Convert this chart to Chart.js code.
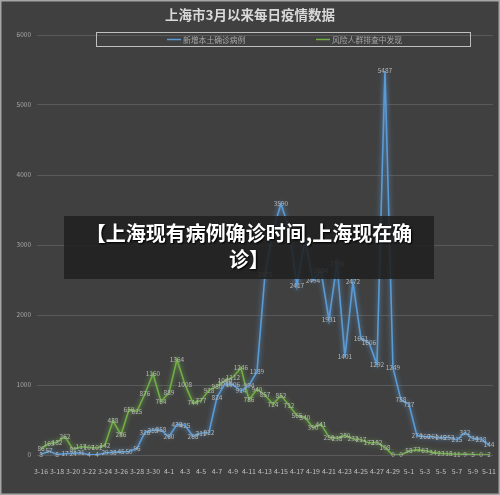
<!DOCTYPE html>
<html>
<head>
<meta charset="utf-8">
<style>
  html, body { margin: 0; padding: 0; background: #404040; }
  #wrap { position: relative; width: 500px; height: 495px; }
  canvas { display: block; }
  #banner {
    position: absolute; left: 64px; top: 216px; width: 370px; height: 63px;
    box-sizing: border-box; padding-top: 4px;
    background: rgba(32, 32, 32, 0.88);
    color: #fff; font-family: "Noto Sans CJK SC", sans-serif; font-weight: bold;
    font-size: 20px; line-height: 26px; text-align: center;
    text-shadow: 1px 1px 2px #000;
  }
</style>
<script src="https://cdn.jsdelivr.net/npm/chart.js"></script>
</head>
<body>
<div id="wrap">
  <canvas id="epiChart" width="500" height="495"></canvas>
  <div id="banner">【上海现有病例确诊时间,上海现在确<br>诊】</div>
</div>
<script>
// --- Data ---
const chartTitle = "上海市3月以来每日疫情数据";

const days = [
  "3-16","3-17","3-18","3-19","3-20","3-21","3-22","3-23","3-24","3-25","3-26","3-27","3-28","3-29","3-30","3-31",
  "4-1","4-2","4-3","4-4","4-5","4-6","4-7","4-8","4-9","4-10","4-11","4-12","4-13","4-14","4-15","4-16",
  "4-17","4-18","4-19","4-20","4-21","4-22","4-23","4-24","4-25","4-26","4-27","4-28","4-29","4-30",
  "5-1","5-2","5-3","5-4","5-5","5-6","5-7","5-8","5-9","5-10","5-11"
];

const localConfirmed = [
  8, 57, 8, 17, 24, 31, 4, 4, 29, 38, 45, 50, 96, 326, 355, 358,
  260, 438, 425, 268, 311, 322, 824, 1015, 1006, 914, 994, 1189, 2573, 3200, 3590, 3238,
  2417, 3084, 2494, 2634, 1931, 2736, 1401, 2472, 1661, 1606, 1292, 5487, 1249, 788,
  727, 274, 260, 261, 245, 253, 215, 322, 234, 228, 144
];

const riskScreening = [
  86, 163, 182, 262, 81, 117, 107, 101, 142, 488, 286, 650, 625, 876, 1160, 764,
  889, 1364, 1008, 744, 777, 928, 980, 1060, 1112, 1246, 786, 940, 857, 724, 852, 712,
  565, 540, 390, 441, 256, 238, 280, 232, 217, 172, 182, 108, 0, 0,
  58, 73, 63, 34, 23, 18, 11, 9, 5, 0, 2
];

const yTicks = [0, 1000, 2000, 3000, 4000, 5000, 6000];

const seriesNames = ["新增本土确诊病例", "风险人群排查中发现"];
const seriesColors = ["#5b9bd5", "#70ad47"];

const FONT = '"Noto Sans CJK SC", "Noto Sans", sans-serif';

// --- Plugins ---
// background + outer frame
const bgPlugin = {
  id: 'bg',
  beforeDraw(chart) {
    const ctx = chart.ctx;
    ctx.save();
    ctx.fillStyle = '#404040';
    ctx.fillRect(0, 0, chart.width, chart.height);
    ctx.strokeStyle = '#a6a6a6';
    ctx.lineWidth = 3;
    ctx.strokeRect(0, 0, chart.width, chart.height);
    ctx.restore();
  }
};

// soft glow under each line
const glowPlugin = {
  id: 'glow',
  beforeDatasetDraw(chart, args) {
    const ctx = chart.ctx;
    ctx.save();
    ctx.shadowColor = seriesColors[args.index];
    ctx.shadowBlur = 5;
  },
  afterDatasetDraw(chart) {
    chart.ctx.restore();
  }
};

// value labels centred on each point
const valueLabels = {
  id: 'valueLabels',
  afterDatasetsDraw(chart) {
    const ctx = chart.ctx;
    ctx.save();
    ctx.font = '6.5px ' + FONT;
    ctx.fillStyle = '#b4b4b4';
    ctx.textAlign = 'center';
    ctx.textBaseline = 'middle';
    chart.data.datasets.forEach((ds, i) => {
      chart.getDatasetMeta(i).data.forEach((pt, j) => {
        ctx.fillText(String(ds.data[j]), pt.x, pt.y);
      });
    });
    ctx.restore();
  }
};

// title and boxed legend
const headPlugin = {
  id: 'head',
  afterDraw(chart) {
    const ctx = chart.ctx;
    ctx.save();
    ctx.fillStyle = '#d9d9d9';
    ctx.font = 'bold 13.5px ' + FONT;
    ctx.textAlign = 'center';
    ctx.textBaseline = 'middle';
    ctx.fillText(chartTitle, 250, 15);

    ctx.strokeStyle = '#bfbfbf';
    ctx.lineWidth = 1;
    ctx.strokeRect(96.5, 32.5, 374, 14);

    const items = [{ x: 167 }, { x: 316 }];
    ctx.font = '7.8px ' + FONT;
    ctx.textAlign = 'left';
    items.forEach((it, i) => {
      ctx.strokeStyle = seriesColors[i];
      ctx.lineWidth = 1.5;
      ctx.beginPath();
      ctx.moveTo(it.x, 39.5);
      ctx.lineTo(it.x + 14, 39.5);
      ctx.stroke();
      ctx.fillStyle = '#a6a6a6';
      ctx.fillText(seriesNames[i], it.x + 16, 40);
    });
    ctx.restore();
  }
};

// --- Chart ---
const ctx = document.getElementById('epiChart').getContext('2d');
const chart = new Chart(ctx, {
  type: 'line',
  data: {
    labels: days,
    datasets: [
      { label: seriesNames[0], data: localConfirmed, borderColor: seriesColors[0], borderWidth: 1.6, pointRadius: 0, tension: 0, fill: false },
      { label: seriesNames[1], data: riskScreening, borderColor: seriesColors[1], borderWidth: 1.6, pointRadius: 0, tension: 0, fill: false }
    ]
  },
  options: {
    responsive: false,
    animation: false,
    devicePixelRatio: 1,
    layout: { padding: { left: 0, right: 3, top: 35, bottom: 0 } },
    plugins: {
      legend: { display: false },
      title: { display: false },
      tooltip: { enabled: false }
    },
    scales: {
      x: {
        offset: true,
        grid: { display: false },
        border: { display: false },
        ticks: {
          autoSkip: false,
          maxRotation: 0,
          minRotation: 0,
          padding: 4,
          color: '#bfbfbf',
          font: { size: 7, family: FONT },
          callback: (v, i) => (i % 2 === 0 ? days[i] : '')
        },
        afterFit: s => { s.height = 40; }
      },
      y: {
        min: 0,
        max: 6000,
        afterBuildTicks: s => { s.ticks = yTicks.map(v => ({ value: v })); },
        grid: { color: '#595959', lineWidth: 1, drawTicks: false },
        border: { display: false },
        ticks: {
          padding: 6,
          color: '#a6a6a6',
          font: { size: 6.5, family: FONT },
          callback: v => String(v)
        },
        afterFit: s => { s.width = 37; }
      }
    }
  },
  plugins: [bgPlugin, glowPlugin, valueLabels, headPlugin]
});
</script>
</body>
</html>
